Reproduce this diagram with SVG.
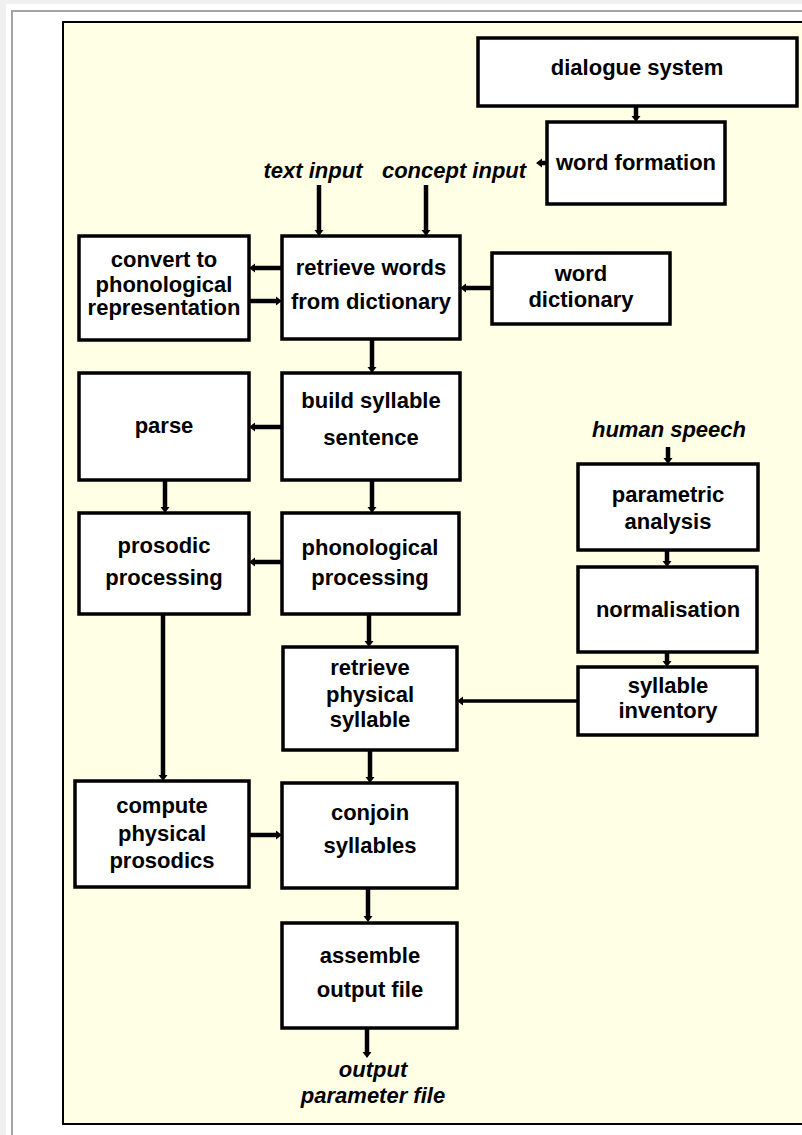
<svg xmlns="http://www.w3.org/2000/svg" width="802" height="1135" viewBox="0 0 802 1135">
<style>
.box{fill:#ffffff;stroke:#000;stroke-width:3.5}
.t{font-family:"Liberation Sans",Arial,sans-serif;font-weight:bold;font-size:22px;fill:#000;text-anchor:middle}
.lbl{font-family:"Liberation Sans",Arial,sans-serif;font-weight:bold;font-style:italic;font-size:22px;fill:#000;text-anchor:middle}
.c{stroke:#000;stroke-width:4.5;fill:none;marker-end:url(#ah)}
.c2{stroke:#000;stroke-width:3.5;fill:none;marker-end:url(#ah)}
</style>
<defs>
<marker id="ah" markerUnits="userSpaceOnUse" markerWidth="7" markerHeight="10" refX="0" refY="5" orient="auto" overflow="visible">
<path d="M0,0.5 L6,5 L0,9.5 z" fill="#000"/>
</marker>
</defs>
<rect x="0" y="0" width="802" height="1135" fill="#ffffff"/>
<rect x="0" y="0" width="802" height="4" fill="#f0f0f0"/>
<rect x="0" y="0" width="6" height="1135" fill="#f0f0f0"/>
<rect x="11" y="10" width="791" height="2" fill="#a4a4a4"/>
<rect x="11" y="10" width="2" height="1125" fill="#a4a4a4"/>
<rect x="63" y="22" width="760" height="1102" fill="#ffffe6" stroke="#000" stroke-width="2"/>

<g id="connectors">
<line class="c" x1="636" y1="106" x2="636" y2="116"/>
<line class="c" x1="547" y1="163" x2="542" y2="163"/>
<line class="c" x1="319" y1="185" x2="319" y2="230"/>
<line class="c" x1="426" y1="185" x2="426" y2="230"/>
<line class="c" x1="282" y1="268" x2="255" y2="268"/>
<line class="c" x1="249" y1="301" x2="276" y2="301"/>
<line class="c" x1="492" y1="288" x2="466" y2="288"/>
<line class="c" x1="372" y1="339" x2="372" y2="367"/>
<line class="c" x1="282" y1="427" x2="255" y2="427"/>
<line class="c" x1="165" y1="480" x2="165" y2="507"/>
<line class="c" x1="372" y1="480" x2="372" y2="507"/>
<line class="c" x1="282" y1="562" x2="255" y2="562"/>
<line class="c" x1="163" y1="614" x2="163" y2="775"/>
<line class="c" x1="369" y1="614" x2="369" y2="641"/>
<line class="c" x1="668" y1="447" x2="668" y2="458"/>
<line class="c" x1="667" y1="550" x2="667" y2="561"/>
<line class="c" x1="667" y1="652" x2="667" y2="661"/>
<line class="c2" x1="578" y1="701" x2="463" y2="701"/>
<line class="c" x1="370" y1="750" x2="370" y2="777"/>
<line class="c" x1="249" y1="835" x2="276" y2="835"/>
<line class="c" x1="368" y1="888" x2="368" y2="916"/>
<line class="c" x1="367" y1="1028" x2="367" y2="1052"/>
</g>

<g id="dialogue-system">
<rect class="box" x="478" y="38" width="319" height="68"/>
<text class="t" x="637" y="75">dialogue system</text>
</g>
<g id="word-formation">
<rect class="box" x="547" y="122" width="178" height="82"/>
<text class="t" x="636" y="170">word formation</text>
</g>
<g id="text-input">
<text class="lbl" x="313" y="178">text input</text>
</g>
<g id="concept-input">
<text class="lbl" x="454" y="178">concept input</text>
</g>
<g id="retrieve-words">
<rect class="box" x="282" y="236" width="178" height="103"/>
<text class="t" x="371" y="275">retrieve words</text>
<text class="t" x="371" y="309">from dictionary</text>
</g>
<g id="convert">
<rect class="box" x="79" y="236" width="170" height="104"/>
<text class="t" x="164" y="267">convert to</text>
<text class="t" x="164" y="292">phonological</text>
<text class="t" x="164" y="315">representation</text>
</g>
<g id="word-dictionary">
<rect class="box" x="492" y="253" width="178" height="71"/>
<text class="t" x="581" y="281">word</text>
<text class="t" x="581" y="307">dictionary</text>
</g>
<g id="parse">
<rect class="box" x="79" y="373" width="170" height="107"/>
<text class="t" x="164" y="433">parse</text>
</g>
<g id="build-syllable">
<rect class="box" x="282" y="373" width="178" height="107"/>
<text class="t" x="371" y="408">build syllable</text>
<text class="t" x="371" y="445">sentence</text>
</g>
<g id="human-speech">
<text class="lbl" x="669" y="437">human speech</text>
</g>
<g id="parametric-analysis">
<rect class="box" x="578" y="464" width="180" height="86"/>
<text class="t" x="668" y="502">parametric</text>
<text class="t" x="668" y="529">analysis</text>
</g>
<g id="prosodic-processing">
<rect class="box" x="79" y="513" width="170" height="101"/>
<text class="t" x="164" y="553">prosodic</text>
<text class="t" x="164" y="585">processing</text>
</g>
<g id="phonological-processing">
<rect class="box" x="282" y="513" width="177" height="101"/>
<text class="t" x="370" y="555">phonological</text>
<text class="t" x="370" y="585">processing</text>
</g>
<g id="normalisation">
<rect class="box" x="578" y="567" width="179" height="85"/>
<text class="t" x="668" y="617">normalisation</text>
</g>
<g id="syllable-inventory">
<rect class="box" x="578" y="667" width="179" height="68"/>
<text class="t" x="668" y="693">syllable</text>
<text class="t" x="668" y="718">inventory</text>
</g>
<g id="retrieve-physical">
<rect class="box" x="283" y="647" width="174" height="103"/>
<text class="t" x="370" y="675">retrieve</text>
<text class="t" x="370" y="702">physical</text>
<text class="t" x="370" y="727">syllable</text>
</g>
<g id="compute-prosodics">
<rect class="box" x="75" y="781" width="174" height="106"/>
<text class="t" x="162" y="813">compute</text>
<text class="t" x="162" y="841">physical</text>
<text class="t" x="162" y="868">prosodics</text>
</g>
<g id="conjoin-syllables">
<rect class="box" x="282" y="783" width="175" height="105"/>
<text class="t" x="370" y="820">conjoin</text>
<text class="t" x="370" y="853">syllables</text>
</g>
<g id="assemble-output">
<rect class="box" x="282" y="923" width="175" height="105"/>
<text class="t" x="370" y="963">assemble</text>
<text class="t" x="370" y="997">output file</text>
</g>
<g id="output-parameter-file">
<text class="lbl" x="373" y="1077">output</text>
<text class="lbl" x="373" y="1103">parameter file</text>
</g>
</svg>
